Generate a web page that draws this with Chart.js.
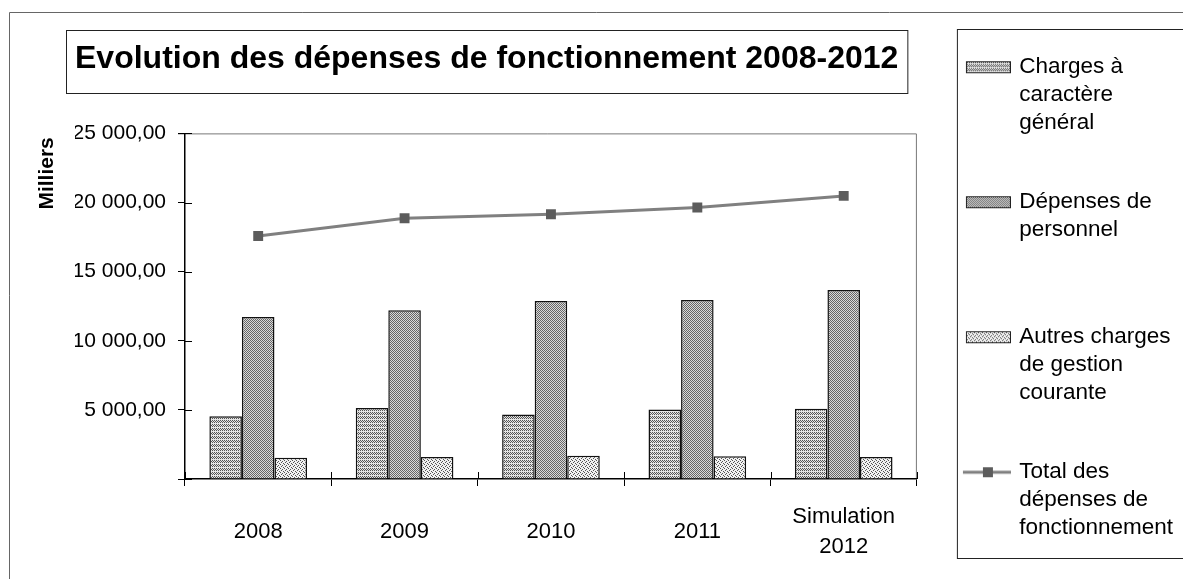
<!DOCTYPE html>
<html lang="fr">
<head>
<meta charset="utf-8">
<title>Evolution des dépenses de fonctionnement 2008-2012</title>
<script src="https://cdn.jsdelivr.net/npm/chart.js@4.4.1/dist/chart.umd.min.js"></script>
<style>
  html, body { margin: 0; padding: 0; background: #fff; }
  #wrap { position: relative; width: 1183px; height: 579px; }
</style>
</head>
<body>
<div id="wrap"><canvas id="chart"></canvas></div>
<script>
const FONT = "'Liberation Sans', Arial, sans-serif";

// values in thousands of euros ("Milliers")
const years = ['2008', '2009', '2010', '2011', ['Simulation', '2012']];
const chargesGenerales = [4540, 5140, 4660, 5020, 5090];
const depensesPersonnel = [11710, 12200, 12870, 12940, 13670];
const autresCharges = [1540, 1590, 1690, 1650, 1590];
const totalFonctionnement = [17580, 18860, 19150, 19640, 20480];
const yTicks = [0, 5000, 10000, 15000, 20000, 25000];
const legendLines = [
  ['Charges à', 'caractère', 'général', ''],
  ['Dépenses de', 'personnel', '', ''],
  ['Autres charges', 'de gestion', 'courante', ''],
  ['Total des', 'dépenses de', 'fonctionnement'],
];

const canvas = document.getElementById('chart');
const mainCtx = canvas.getContext('2d');

// stippled fills, like the old Excel print patterns
const STIPPLES = [
  { rows: ['1010', '0101', '1010', '0000'], dark: '#555', light: '#e4e4e4' },
  { rows: ['10', '01'], dark: '#666', light: '#dadada' },
  { rows: ['1000', '0010', '0100', '0001'], dark: '#555', light: '#f2f2f2' },
];

function stipple(ctx, spec) {
  const tile = document.createElement('canvas');
  tile.width = spec.rows[0].length;
  tile.height = spec.rows.length;
  const g = tile.getContext('2d');
  g.fillStyle = spec.light;
  g.fillRect(0, 0, tile.width, tile.height);
  g.fillStyle = spec.dark;
  spec.rows.forEach((r, y) => [...r].forEach((ch, x) => {
    if (ch === '1') g.fillRect(x, y, 1, 1);
  }));
  return ctx.createPattern(tile, 'repeat');
}

function barSwatch(spec) {
  const c = document.createElement('canvas');
  c.width = 74; c.height = 14;
  const g = c.getContext('2d');
  g.fillStyle = stipple(g, spec);
  g.fillRect(29, 1, 45, 12);
  g.strokeStyle = '#222';
  g.lineWidth = 1;
  g.strokeRect(29.5, 1.5, 44, 11);
  return c;
}

function lineSwatch() {
  const c = document.createElement('canvas');
  c.width = 74; c.height = 14;
  const g = c.getContext('2d');
  g.strokeStyle = '#808080';
  g.lineWidth = 3;
  g.beginPath(); g.moveTo(26, 7); g.lineTo(74, 7); g.stroke();
  g.fillStyle = '#5c5c5c';
  g.fillRect(46, 2, 10, 10);
  return c;
}

const swatches = [barSwatch(STIPPLES[0]), barSwatch(STIPPLES[1]), barSwatch(STIPPLES[2]), lineSwatch()];

function fmt(v) {
  if (v === 0) return '';
  const [i, d] = v.toFixed(2).split('.');
  return i.replace(/\B(?=(\d{3})+(?!\d))/g, '\u00a0') + ',' + d;
}

const decorPlugin = {
  id: 'decor',
  beforeDraw(chart) {
    const { ctx, chartArea: a, titleBlock: tb, legend } = chart;
    ctx.save();
    // outer frame (only top and left edge visible)
    ctx.strokeStyle = '#666';
    ctx.lineWidth = 1;
    ctx.beginPath();
    ctx.moveTo(9.5, chart.height);
    ctx.lineTo(9.5, 12.5);
    ctx.lineTo(chart.width, 12.5);
    ctx.stroke();
    // title box
    ctx.font = `bold ${tb.options.font.size}px ${FONT}`;
    const tw = ctx.measureText(tb.options.text).width;
    ctx.strokeStyle = '#222';
    ctx.strokeRect(tb.left - 8.5, tb.top - 2.5, tw + 18, 63);
    // legend box
    ctx.strokeRect(legend.left + 40.5, legend.top - 3.5, chart.width, legend.bottom - legend.top - 17);
    // plot area frame: top and right
    ctx.strokeStyle = '#777';
    ctx.beginPath();
    ctx.moveTo(a.left - 7, a.top + 0.5);
    ctx.lineTo(a.right - 0.5, a.top + 0.5);
    ctx.lineTo(a.right - 0.5, a.bottom);
    ctx.stroke();
    ctx.restore();
  },
  afterDraw(chart) {
    const { ctx, chartArea: a, scales } = chart;
    ctx.save();
    ctx.strokeStyle = '#000';
    ctx.lineWidth = 1;
    // tick marks crossing into the plot area
    ctx.beginPath();
    scales.y.ticks.forEach((t, i) => {
      const y = Math.round(scales.y.getPixelForTick(i)) + 0.5;
      ctx.moveTo(a.left, y); ctx.lineTo(a.left + 7, y);
    });
    const n = years.length;
    for (let i = 0; i <= n; i++) {
      const x = Math.round(a.left + (a.right - a.left) * i / n) + 0.5;
      ctx.moveTo(x, a.bottom - 7); ctx.lineTo(x, a.bottom);
    }
    ctx.stroke();
    // axis title, sitting high on the left like in the original
    ctx.translate(scales.y.left - 28, a.top + 40);
    ctx.rotate(-Math.PI / 2);
    ctx.font = `bold 21px ${FONT}`;
    ctx.fillStyle = '#000';
    ctx.textAlign = 'center';
    ctx.textBaseline = 'middle';
    ctx.fillText('Milliers', 0, 0);
    ctx.restore();
  },
};

Chart.defaults.font.family = FONT;
Chart.defaults.color = '#000';

const barDs = (label, data, i) => ({
  label,
  data,
  backgroundColor: stipple(mainCtx, STIPPLES[i]),
  borderColor: '#111',
  borderWidth: 1.5,
  categoryPercentage: 0.667,
  barPercentage: 1,
});

new Chart(canvas, {
  type: 'bar',
  data: {
    labels: years,
    datasets: [
      barDs('Charges à caractère général', chargesGenerales, 0),
      barDs('Dépenses de personnel', depensesPersonnel, 1),
      barDs('Autres charges de gestion courante', autresCharges, 2),
      {
        type: 'line',
        label: 'Total des dépenses de fonctionnement',
        data: totalFonctionnement,
        borderColor: '#808080',
        borderWidth: 3,
        tension: 0,
        pointStyle: 'rect',
        pointRadius: 7,
        pointBackgroundColor: '#5c5c5c',
        pointBorderColor: '#5c5c5c',
        pointBorderWidth: 0,
      },
    ],
  },
  options: {
    responsive: true,
    maintainAspectRatio: false,
    animation: false,
    events: [],
    layout: { padding: { top: 33, left: 75, right: 0, bottom: 0 } },
    plugins: {
      title: {
        display: true,
        text: 'Evolution des dépenses de fonctionnement 2008-2012',
        align: 'start',
        color: '#000',
        font: { size: 32, weight: 'bold', lineHeight: 1.2 },
        padding: { top: 7, bottom: 55 },
      },
      legend: {
        position: 'right',
        align: 'start',
        labels: {
          color: '#000',
          font: { size: 22.5, lineHeight: 1.2444 },
          padding: 23,
          usePointStyle: true,
          pointStyleWidth: 68,
          generateLabels(chart) {
            const items = Chart.defaults.plugins.legend.labels.generateLabels(chart);
            return items.map((it, i) => ({ ...it, text: legendLines[i], pointStyle: swatches[i] }));
          },
        },
      },
      tooltip: { enabled: false },
    },
    scales: {
      x: {
        grid: { display: true, drawOnChartArea: false, drawTicks: true, tickLength: 7, color: '#000', offset: true },
        border: { display: true, color: '#000', width: 1.5 },
        ticks: { font: { size: 22, lineHeight: 1.38 }, padding: 31, crossAlign: 'center', maxRotation: 0, autoSkip: false },
        afterFit: (s) => { s.height = 100; },
      },
      y: {
        min: 0,
        max: 25000,
        afterBuildTicks: (s) => { s.ticks = yTicks.map((v) => ({ value: v })); },
        grid: { display: true, drawOnChartArea: false, drawTicks: true, tickLength: 7, color: '#000' },
        border: { display: true, color: '#000', width: 1.5 },
        ticks: { font: { size: 21 }, padding: 12, callback: (v) => fmt(v) },
        afterFit: (s) => { s.width = 110; },
      },
    },
  },
  plugins: [decorPlugin],
});
</script>
</body>
</html>
